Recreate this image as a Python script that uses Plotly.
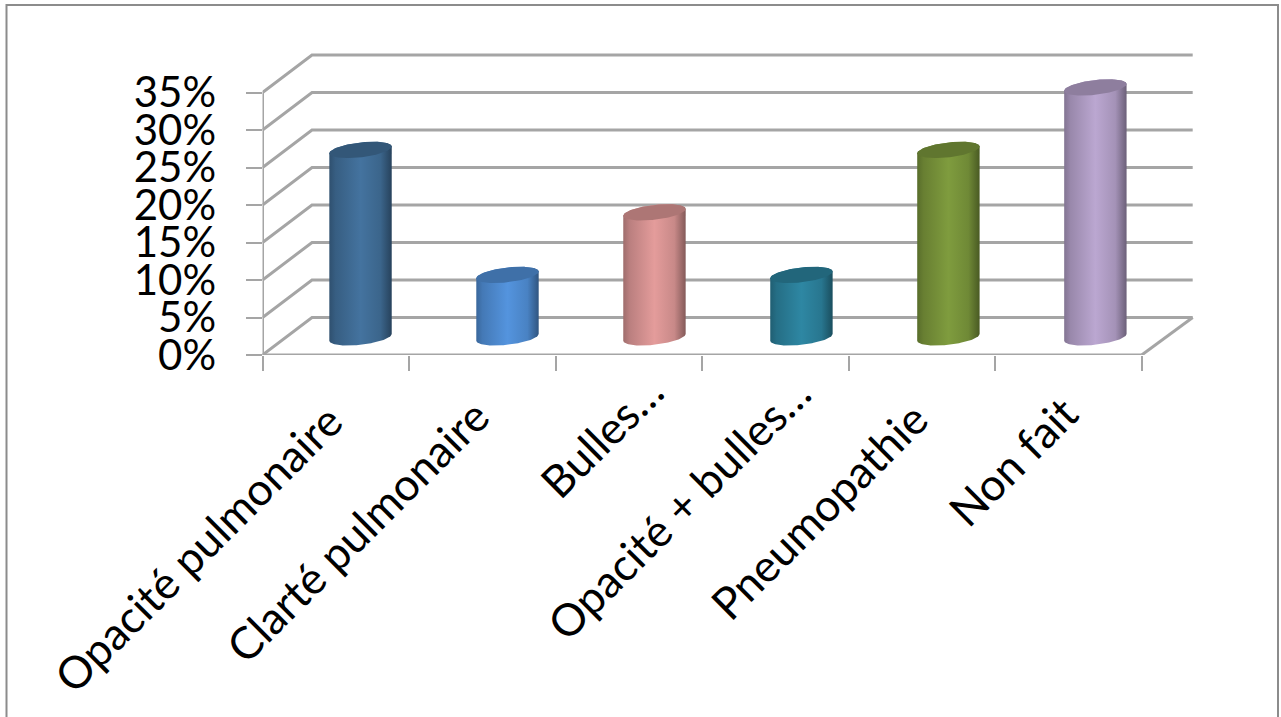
import numpy as np
import plotly.graph_objects as go

categories = ["Opacité pulmonaire", "Clarté pulmonaire", "Bulles…", "Opacité + bulles…", "Pneumopathie", "Non fait"]
values = [25, 8.33, 16.67, 8.33, 25, 33.33]
bar_colors = ["#44739F", "#5494DE", "#E49C9B", "#2E87A3", "#7F9C3E", "#BBA7D1"]
y_ticks = [0, 5, 10, 15, 20, 25, 30, 35]
label_dx = [19, 19, 47, 48, 18, 22]
label_dy = [-36, -31, -6, -8, -34, -28]

W, H = 1281, 717
X0, X6, Y0, Y35 = 262.5, 1141.7, 355.0, 92.5
PX_X = (X6 - X0) / 6
PX_Y = (Y0 - Y35) / 35
X_MAX = (1205 - X0) / PX_X
Y_MAX = (Y0 - 45) / PX_Y
DX, DY = 49.5 / PX_X, 37.5 / PX_Y
BACK_END = 6 + DX + 1.5 / PX_X
GRID = "#a5a5a5"
FONT = "Lato"


def shade(hex_color, f):
    r, g, b = (int(hex_color[i:i + 2], 16) for i in (1, 3, 5))
    return f"rgb({int(r * f)},{int(g * f)},{int(b * f)})"


def ellipse(cx, cy, t):
    a, b, s = 31.2 / PX_X, 7.4 / PX_Y, 3.4 / PX_Y
    return cx + a * np.cos(t), cy + b * np.sin(t) + s * np.cos(t)


fig = go.Figure()

# walls: side diagonals, back wall lines, floor front edge
wx, wy = [], []
for v in y_ticks:
    wx += [0, DX, BACK_END, None]
    wy += [v, v + DY, v + DY, None]
wx += [6, BACK_END, None, 0, 6, None, 0, 0]
wy += [0, DY, None, 0, 0, None, 0, 35]
fig.add_trace(go.Scatter(x=wx, y=wy, mode="lines", line=dict(color=GRID, width=3),
                         cliponaxis=False, hoverinfo="skip", showlegend=False))

# cylinders
for i, (v, c) in enumerate(zip(values, bar_colors)):
    cx = i * 1.003 + 0.5 + DX * 0.5
    cy = DY * 0.47
    t_front = np.linspace(np.pi, 2 * np.pi, 60)   # lower edge of the floor ellipse, left to right
    t_back = np.linspace(0, np.pi, 60)            # upper edge of the top ellipse, right to left
    bx, by = ellipse(cx, cy, t_front)
    tx, ty = ellipse(cx, cy + v, t_back)
    stops = [[0, shade(c, .70)], [.1, shade(c, .82)], [.5, shade(c, 1.0)],
             [.82, shade(c, .88)], [1, shade(c, .58)]]
    fig.add_trace(go.Scatter(
        x=np.r_[bx, tx], y=np.r_[by, ty], mode="lines", line=dict(width=0),
        fill="toself", fillgradient=dict(type="horizontal", colorscale=stops),
        cliponaxis=False, hoverinfo="skip", showlegend=False))
    lx, ly = ellipse(cx, cy + v, np.linspace(0, 2 * np.pi, 120))
    fig.add_trace(go.Scatter(
        x=lx, y=ly, mode="lines", line=dict(width=0), fill="toself",
        fillcolor=shade(c, .76), cliponaxis=False, hoverinfo="skip", showlegend=False))

annotations = [
    dict(x=i + 0.5, y=0, xref="x", yref="y", text=name, showarrow=False, textangle=-45,
         xanchor="right", yanchor="top", xshift=label_dx[i], yshift=label_dy[i],
         font=dict(family=FONT, size=44.5, color="black"))
    for i, name in enumerate(categories)
]

fig.update_layout(
    width=W, height=H, autosize=False,
    margin=dict(l=0, r=0, t=0, b=0, autoexpand=False),
    paper_bgcolor="white", plot_bgcolor="white",
    font=dict(family=FONT, color="black", size=42),
    showlegend=False,
    annotations=annotations,
    xaxis=dict(
        domain=[X0 / W, 1205 / W], range=[0, X_MAX], automargin=False,
        tickmode="array", tickvals=list(range(7)), showticklabels=False,
        ticks="outside", ticklen=15, tickwidth=2, tickcolor=GRID,
        showgrid=False, zeroline=False, showline=False,
    ),
    yaxis=dict(
        domain=[(H - Y0) / H, (H - 45) / H], range=[0, Y_MAX], automargin=False,
        tickmode="array", tickvals=y_ticks, ticktext=[f"{v}%" for v in y_ticks],
        ticks="outside", ticklen=16, tickwidth=2, tickcolor=GRID,
        showgrid=False, zeroline=False, showline=False,
        ticklabelstandoff=21, tickfont=dict(family=FONT, size=42),
    ),
    shapes=[dict(type="rect", xref="paper", yref="paper",
                 x0=6.5 / W, x1=1278 / W, y0=-0.02, y1=(H - 5) / H,
                 line=dict(color="#8c8c8c", width=2), fillcolor="rgba(0,0,0,0)", layer="below")],
)

fig.write_html("out.html", config=dict(displayModeBar=False),
               post_script="document.body.style.margin='0';document.body.style.overflow='hidden';")
